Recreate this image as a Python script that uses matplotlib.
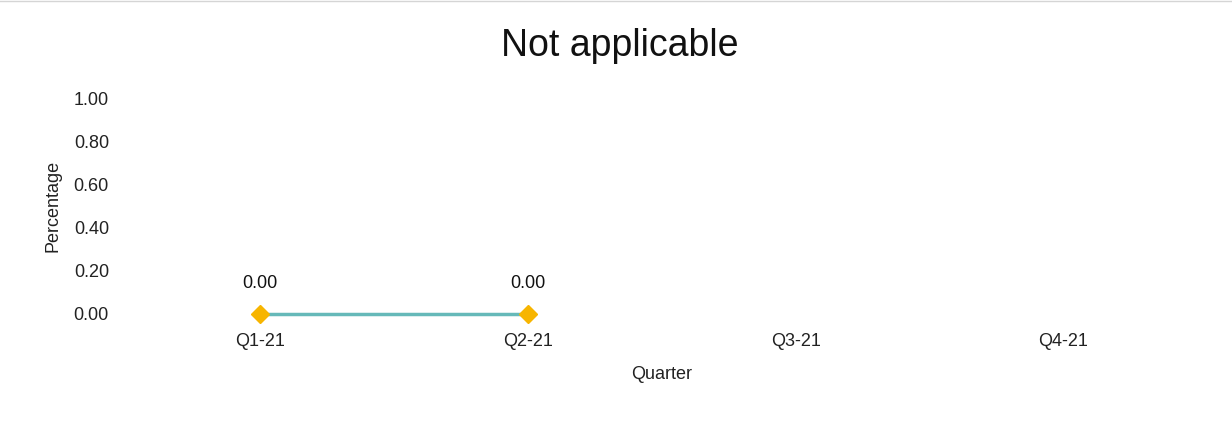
import numpy as np
import matplotlib.pyplot as plt
from matplotlib.lines import Line2D

plt.rcParams["font.family"] = ["Liberation Sans", "DejaVu Sans"]

quarters = ["Q1-21", "Q2-21", "Q3-21", "Q4-21"]
values = [0.0, 0.0, np.nan, np.nan]
yticks = [0.0, 0.2, 0.4, 0.6, 0.8, 1.0]

fig = plt.figure(figsize=(12.32, 4.30), dpi=100)
ax = fig.add_axes([0.102, 0.270, 0.870, 0.502])

x = np.arange(len(quarters))
ax.plot(x, values, color="#66b9b9", linewidth=2.5, zorder=2, clip_on=False)
ax.plot(x, values, linestyle="none", marker="D", markersize=9,
        color="#f7b500", zorder=3, clip_on=False)

for xi, v in zip(x, values):
    if not np.isnan(v):
        ax.annotate(f"{v:.2f}", (xi, v), xytext=(0, 22), textcoords="offset points",
                    ha="center", va="center", fontsize=13, color="#111111")

ax.set_xlim(-0.5, len(quarters) - 0.5)
ax.set_ylim(0, 1)
ax.set_xticks(x)
ax.set_xticklabels(quarters)
ax.set_yticks(yticks)
ax.set_yticklabels([f"{t:.2f}" for t in yticks])
ax.tick_params(length=0, labelsize=13, colors="#222222", pad=12)
ax.tick_params(axis="x", pad=14)
for s in ax.spines.values():
    s.set_visible(False)

ax.set_xlabel("Quarter", fontsize=13, color="#222222", labelpad=11)
ax.set_ylabel("Percentage", fontsize=13, color="#222222", labelpad=9)

fig.text(0.503, 0.870, "Not applicable", fontsize=27, ha="center",
         va="baseline", color="#111111")

# faint border at the top of the page
fig.add_artist(Line2D([0, 1], [0.997, 0.997], color="#d5d5d5", linewidth=1))

fig.savefig("out.png", dpi=100)
